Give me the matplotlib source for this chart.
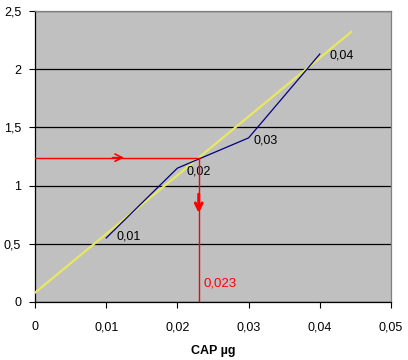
import numpy as np
import matplotlib.pyplot as plt
from matplotlib.ticker import FuncFormatter

plt.rcParams['font.family'] = ['Liberation Sans', 'DejaVu Sans']

# calibration points (CAP ug vs signal)
cap = [0.01, 0.02, 0.03, 0.04]
signal = [0.55, 1.15, 1.41, 2.13]
point_labels = ['0,01', '0,02', '0,03', '0,04']

# linear trend line endpoints
trend_x = [0.0, 0.0444]
trend_y = [0.08, 2.32]

# read-off of unknown sample
sample_y = 1.24
sample_x = 0.023

fig = plt.figure(figsize=(4.08, 3.6), dpi=100)
ax = fig.add_axes([35/408, 1 - 302/360, 356/408, 291/360])
ax.set_facecolor('#c0c0c0')

ax.set_xlim(0, 0.05)
ax.set_ylim(0, 2.5)
ax.set_yticks(np.arange(0, 2.51, 0.5))
ax.set_xticks(np.arange(0, 0.051, 0.01))
ax.yaxis.grid(True, color='black', linewidth=0.9)
ax.set_axisbelow(True)

comma = lambda fmt: FuncFormatter(lambda v, p: fmt(v).replace('.', ','))
ax.xaxis.set_major_formatter(comma(lambda v: '0' if v == 0 else '%.2f' % v))
ax.yaxis.set_major_formatter(comma(lambda v: '%g' % v))
ax.tick_params(labelsize=9, length=4, width=0.8, colors='black')
ax.tick_params(axis='x', pad=10)
ax.tick_params(axis='y', pad=6)

for s in ['left', 'bottom']:
    ax.spines[s].set_color('black')
    ax.spines[s].set_linewidth(0.9)
for s in ['top', 'right']:
    ax.spines[s].set_color('#808080')
    ax.spines[s].set_linewidth(0.9)

# trend line and data
ax.plot(trend_x, trend_y, color='#e8e860', linewidth=1.6, zorder=3)
ax.plot(cap, signal, color='#000080', linewidth=0.9, zorder=4)
offs = [(0.0014, 0.01), (0.0013, -0.03), (0.0007, -0.02), (0.0014, -0.01)]
for x, y, t, (dx, dy) in zip(cap, signal, point_labels, offs):
    ax.text(x + dx, y + dy, t, fontsize=9, ha='left', va='center', zorder=5)

# red read-off lines
red = '#ff0000'
ax.plot([0, sample_x], [sample_y, sample_y], color=red, linewidth=1.0, zorder=5)
ax.plot([sample_x, sample_x], [sample_y, 0], color=red, linewidth=1.0, zorder=5)
ax.annotate('', xy=(0.0129, sample_y), xytext=(0.0105, sample_y),
            arrowprops=dict(arrowstyle='->', color=red, lw=1.2,
                            mutation_scale=13), zorder=6)
ax.annotate('', xy=(sample_x, 0.74), xytext=(sample_x, 0.95),
            arrowprops=dict(arrowstyle='->', color=red, lw=2.2,
                            mutation_scale=12), zorder=6)
ax.text(sample_x + 0.0007, 0.16, '0,023', color=red, fontsize=9.5,
        ha='left', va='center', zorder=6)

ax.set_xlabel('CAP µg', fontsize=9, fontweight='bold', labelpad=8)

fig.savefig('out.png', dpi=100)
